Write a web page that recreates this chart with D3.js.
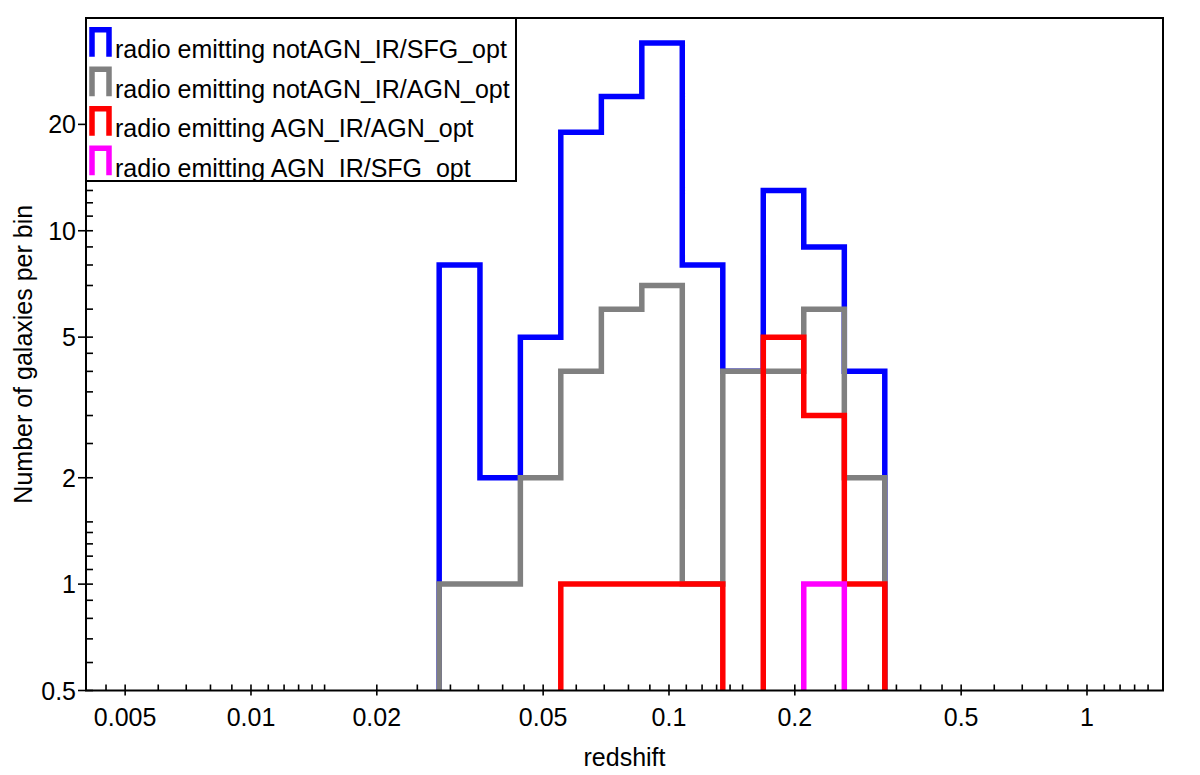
<!DOCTYPE html>
<html>
<head>
<meta charset="utf-8">
<script src="https://cdn.jsdelivr.net/npm/d3@7"></script>
<style>
  html, body { margin: 0; padding: 0; background: #fff; }
  text { font-family: "Liberation Sans", Arial, Helvetica, sans-serif; fill: #000; }
</style>
</head>
<body>
<svg id="chart" width="1200" height="775"></svg>
<script>
// ---- Data ----
const binEdges = [0.0282, 0.0353, 0.0441, 0.0551, 0.0689, 0.0861, 0.1076, 0.1345, 0.1681, 0.2101, 0.2627, 0.3283];
const seriesNames = [
  "radio emitting notAGN_IR/SFG_opt",
  "radio emitting notAGN_IR/AGN_opt",
  "radio emitting AGN_IR/AGN_opt",
  "radio emitting AGN_IR/SFG_opt"
];
const seriesColors = ["#0000ff", "#808080", "#ff0000", "#ff00ff"];
const countsSFG_notAGN = [8, 2, 5, 19, 24, 34, 8, 4, 13, 9, 4];
const countsAGNopt_notAGN = [1, 1, 2, 4, 6, 7, 1, 4, 4, 6, 2];
const countsAGN_AGN = [0, 0, 0, 1, 1, 1, 1, 0, 5, 3, 1];
const countsAGN_SFG = [0, 0, 0, 0, 0, 0, 0, 0, 0, 1, 0];
const seriesCounts = [countsSFG_notAGN, countsAGNopt_notAGN, countsAGN_AGN, countsAGN_SFG];

const xMajorTicks = [0.005, 0.01, 0.02, 0.05, 0.1, 0.2, 0.5, 1];
const xMajorLabels = ["0.005", "0.01", "0.02", "0.05", "0.1", "0.2", "0.5", "1"];
const xMinorTicks = [0.0045, 0.006, 0.007, 0.008, 0.009, 0.011, 0.012, 0.013, 0.014, 0.015,
  0.025, 0.03, 0.035, 0.04, 0.045, 0.06, 0.07, 0.08, 0.09, 0.11, 0.12, 0.13, 0.14, 0.15,
  0.25, 0.3, 0.35, 0.4, 0.45, 0.6, 0.7, 0.8, 0.9, 1.1, 1.2, 1.3, 1.4];
const yMajorTicks = [0.5, 1, 2, 5, 10, 20];
const yMajorLabels = ["0.5", "1", "2", "5", "10", "20"];
const yMinorTicks = [0.6, 0.7, 0.8, 0.9, 1.1, 1.2, 1.3, 1.4, 1.5, 2.5, 3, 3.5, 4, 4.5,
  6, 7, 8, 9, 11, 12, 13, 14, 15, 25, 30, 35];
const xTitle = "redshift";
const yTitle = "Number of galaxies per bin";

// ---- Layout ----
const L = 86, R = 1163, T = 18, B = 690.5;
const svg = d3.select("#chart");
const x = d3.scaleLog().domain([0.00403, 1.52]).range([L, R]);
const y = d3.scaleLog().domain([0.5, 40]).range([B, T]);
const FS = 25;

svg.append("defs").append("clipPath").attr("id", "plotclip")
  .append("rect").attr("x", L).attr("y", T).attr("width", R - L).attr("height", B - T);

// ---- Histograms ----
const line = d3.line()
  .x(d => x(d[0]))
  .y(d => d[1] > 0 ? y(d[1]) : B + 30);

const gHist = svg.append("g").attr("clip-path", "url(#plotclip)");
seriesCounts.forEach((counts, si) => {
  const pts = [[binEdges[0], 0]];
  counts.forEach((c, i) => {
    pts.push([binEdges[i], c]);
    pts.push([binEdges[i + 1], c]);
  });
  pts.push([binEdges[binEdges.length - 1], 0]);
  gHist.append("path")
    .attr("d", line(pts))
    .attr("fill", "none")
    .attr("stroke", seriesColors[si])
    .attr("stroke-width", 5.5)
    .attr("stroke-linejoin", "miter")
    .attr("stroke-linecap", "butt");
});

// ---- Axes ----
const gAx = svg.append("g").attr("stroke", "#000").attr("stroke-width", 1.6);
// x minor ticks (inside)
xMinorTicks.forEach(v => {
  gAx.append("line").attr("x1", x(v)).attr("x2", x(v)).attr("y1", B).attr("y2", B - 6);
});
// x major ticks (inside + outside)
xMajorTicks.forEach(v => {
  gAx.append("line").attr("x1", x(v)).attr("x2", x(v)).attr("y1", B + 5).attr("y2", B - 6);
});
// y minor
yMinorTicks.forEach(v => {
  gAx.append("line").attr("x1", L).attr("x2", L + 7).attr("y1", y(v)).attr("y2", y(v));
});
// y major
yMajorTicks.forEach(v => {
  gAx.append("line").attr("x1", L - 8).attr("x2", L + 7).attr("y1", y(v)).attr("y2", y(v));
});

// frame
svg.append("rect").attr("x", L).attr("y", T).attr("width", R - L).attr("height", B - T)
  .attr("fill", "none").attr("stroke", "#000").attr("stroke-width", 2);

// tick labels
xMajorTicks.forEach((v, i) => {
  svg.append("text").attr("x", x(v)).attr("y", 726)
    .attr("text-anchor", "middle").attr("font-size", FS).text(xMajorLabels[i]);
});
yMajorTicks.forEach((v, i) => {
  svg.append("text").attr("x", 76).attr("y", y(v)).attr("dy", "0.36em")
    .attr("text-anchor", "end").attr("font-size", FS).text(yMajorLabels[i]);
});

// axis titles
svg.append("text").attr("x", (L + R) / 2).attr("y", 766)
  .attr("text-anchor", "middle").attr("font-size", FS).text(xTitle);
svg.append("text")
  .attr("transform", `translate(32, ${(T + B) / 2}) rotate(-90)`)
  .attr("text-anchor", "middle").attr("font-size", FS).text(yTitle);

// ---- Legend ----
const gLeg = svg.append("g");
gLeg.append("rect").attr("x", L).attr("y", T).attr("width", 430).attr("height", 163)
  .attr("fill", "#fff").attr("stroke", "#000").attr("stroke-width", 2);
seriesNames.forEach((name, i) => {
  const bot = 56.7 + 39.5 * i;
  const top = bot - 27;
  gLeg.append("path")
    .attr("d", `M92,${bot}V${top}H109V${bot}`)
    .attr("fill", "none").attr("stroke", seriesColors[i]).attr("stroke-width", 5.5)
    .attr("stroke-linejoin", "miter");
  gLeg.append("text").attr("x", 115).attr("y", bot + 1.6)
    .attr("font-size", FS).text(name);
});
</script>
</body>
</html>
